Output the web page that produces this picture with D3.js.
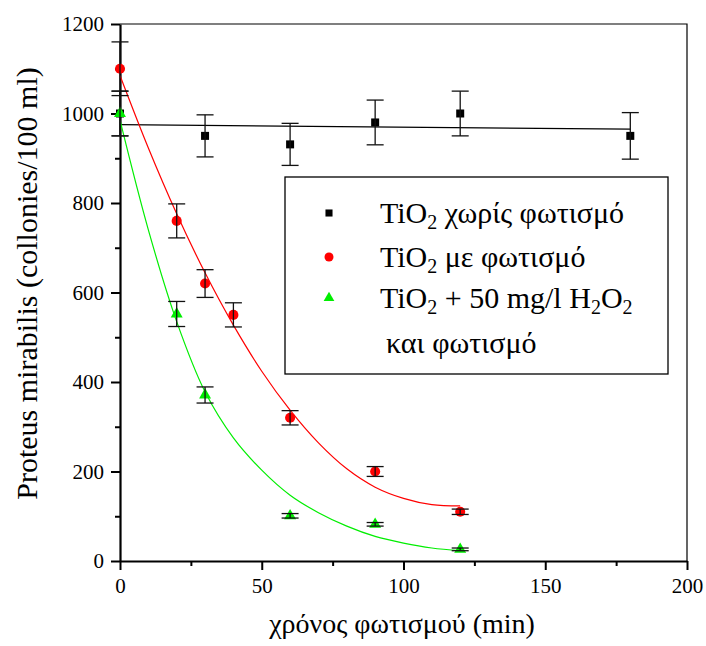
<!DOCTYPE html>
<html>
<head>
<meta charset="utf-8">
<script src="https://cdn.jsdelivr.net/npm/d3@7"></script>
<style>
  body { margin: 0; background: #fff; }
  svg { font-family: "Liberation Serif", "DejaVu Serif", serif; }
</style>
</head>
<body>
<svg id="chart" width="706" height="646"></svg>
<script>
// measured points (time in min, count, error)
const darkTimes = [0, 30, 60, 90, 120, 180];
const darkValues = [1000, 950, 931, 980, 1000, 950];
const darkErrors = [50, 47, 47, 50, 50, 52];

const lightTimes = [0, 20, 30, 40, 60, 90, 120];
const lightValues = [1100, 760, 620, 550, 320, 200, 110];
const lightErrors = [60, 38, 31, 27, 16, 11, 6];

const h2o2Times = [0, 20, 30, 60, 90, 120];
const h2o2Values = [1000, 552, 371, 101, 82, 26];
const h2o2Errors = [50, 28, 18, 5, 4, 3];

// fitted curves
const darkFitTimes = [0, 180];
const darkFitValues = [975, 965];
const fitTimes = [0, 10, 20, 30, 40, 50, 60, 70, 80, 90, 100, 110, 120];
const lightFitValues = [1085, 923, 776, 644, 527, 424, 337, 264, 206, 165, 140, 126, 123];
const h2o2FitValues = [985, 740, 535, 378, 275, 203, 147, 108, 78, 55, 40, 29, 23];

const xTicks = [0, 50, 100, 150, 200];
const xMinor = [25, 75, 125, 175];
const yTicks = [0, 200, 400, 600, 800, 1000, 1200];
const yMinor = [100, 300, 500, 700, 900, 1100];

const svg = d3.select("#chart");
const mLeft = 120, mRight = 687, mTop = 24, mBottom = 561;

const x = d3.scaleLinear().domain([0, 200]).range([mLeft, mRight]);
const y = d3.scaleLinear().domain([0, 1200]).range([mBottom, mTop]);

// frame on top/right
svg.append("path")
  .attr("d", `M${mLeft},${mTop}H${mRight}V${mBottom}`)
  .attr("fill", "none").attr("stroke", "#000").attr("stroke-width", 1.2);

// axes
svg.append("g")
  .attr("transform", `translate(0,${mBottom})`)
  .call(d3.axisBottom(x).tickValues(xTicks).tickSize(9).tickPadding(8).tickSizeOuter(0).tickFormat(d3.format("d")));
svg.append("g")
  .attr("transform", `translate(0,${mBottom})`)
  .call(d3.axisBottom(x).tickValues(xMinor).tickSize(5).tickFormat("").tickSizeOuter(0))
  .call(g => g.select(".domain").remove());
svg.append("g")
  .attr("transform", `translate(${mLeft},0)`)
  .call(d3.axisLeft(y).tickValues(yTicks).tickSize(9).tickPadding(7).tickSizeOuter(0).tickFormat(d3.format("d")));
svg.append("g")
  .attr("transform", `translate(${mLeft},0)`)
  .call(d3.axisLeft(y).tickValues(yMinor).tickSize(5).tickFormat("").tickSizeOuter(0))
  .call(g => g.select(".domain").remove());

svg.selectAll(".domain").attr("stroke-width", 2.2);
svg.selectAll(".tick line").attr("stroke-width", 2);
svg.selectAll(".tick text")
  .attr("font-family", "Liberation Serif")
  .attr("font-size", 21)
  .attr("fill", "#000");

// axis titles
svg.append("text")
  .attr("x", 402).attr("y", 633)
  .attr("text-anchor", "middle")
  .attr("font-size", 28)
  .text("χρόνος φωτισμού (min)");
svg.append("text")
  .attr("transform", `translate(37,${(mTop + mBottom) / 2 - 9}) rotate(-90)`)
  .attr("text-anchor", "middle")
  .attr("font-size", 30)
  .text("Proteus mirabilis (collonies/100 ml)");

// fit curves
const line = d3.line().x(d => x(d[0])).y(d => y(d[1])).curve(d3.curveCatmullRom);
svg.append("path")
  .attr("d", line(darkFitTimes.map((t, i) => [t, darkFitValues[i]])))
  .attr("fill", "none").attr("stroke", "#000").attr("stroke-width", 1.2);
svg.append("path")
  .attr("d", line(fitTimes.map((t, i) => [t, lightFitValues[i]])))
  .attr("fill", "none").attr("stroke", "#ff0000").attr("stroke-width", 1.2);
svg.append("path")
  .attr("d", line(fitTimes.map((t, i) => [t, h2o2FitValues[i]])))
  .attr("fill", "none").attr("stroke", "#00ee00").attr("stroke-width", 1.2);

const square = d3.symbol().type(d3.symbolSquare).size(64);
const circle = d3.symbol().type(d3.symbolCircle).size(80);
const triangle = d3.symbol().type(d3.symbolTriangle).size(62);

function drawSeries(times, values, errors, sym, color) {
  const pts = times.map((t, i) => ({ t, v: values[i], e: errors[i] }));
  const g = svg.append("g");
  g.selectAll("path.m").data(pts).join("path")
    .attr("class", "m")
    .attr("d", sym)
    .attr("transform", d => `translate(${x(d.t)},${y(d.v)})`)
    .attr("fill", color);
  const eb = g.selectAll("g.err").data(pts).join("g").attr("class", "err")
    .attr("stroke", "#111").attr("stroke-width", 1.3);
  eb.append("line")
    .attr("x1", d => x(d.t)).attr("x2", d => x(d.t))
    .attr("y1", d => y(d.v + d.e)).attr("y2", d => y(d.v - d.e));
  eb.append("line")
    .attr("x1", d => x(d.t) - 8.5).attr("x2", d => x(d.t) + 8.5)
    .attr("y1", d => y(d.v + d.e)).attr("y2", d => y(d.v + d.e));
  eb.append("line")
    .attr("x1", d => x(d.t) - 8.5).attr("x2", d => x(d.t) + 8.5)
    .attr("y1", d => y(d.v - d.e)).attr("y2", d => y(d.v - d.e));
}

drawSeries(darkTimes, darkValues, darkErrors, square, "#000");
drawSeries(lightTimes, lightValues, lightErrors, circle, "#ff0000");
drawSeries(h2o2Times, h2o2Values, h2o2Errors, triangle, "#00ee00");

// legend
const legend = svg.append("g");
legend.append("rect")
  .attr("x", 285).attr("y", 177).attr("width", 383).attr("height", 197)
  .attr("fill", "#fff").attr("stroke", "#000").attr("stroke-width", 1.3);

const legendRows = [
  { sym: d3.symbol().type(d3.symbolSquare).size(50), color: "#000", cy: 213, base: 223, parts: [["TiO", 0], ["2", 1], [" χωρίς φωτισμό", 0]] },
  { sym: d3.symbol().type(d3.symbolCircle).size(64), color: "#ff0000", cy: 257, base: 267, parts: [["TiO", 0], ["2", 1], [" με φωτισμό", 0]] },
  { sym: d3.symbol().type(d3.symbolTriangle).size(50), color: "#00ee00", cy: 298, base: 308, parts: [["TiO", 0], ["2", 1], [" + 50 mg/l H", 0], ["2", 1], ["O", 0], ["2", 1]] }
];
legendRows.forEach(r => {
  legend.append("path").attr("d", r.sym())
    .attr("transform", `translate(329,${r.cy})`).attr("fill", r.color);
  const t = legend.append("text").attr("x", 380).attr("y", r.base).attr("font-size", 30);
  r.parts.forEach(([s, sub]) => {
    t.append("tspan")
      .attr("font-size", sub ? 20 : 30)
      .attr("baseline-shift", sub ? "-0.3em" : null)
      .text(s);
  });
});
legend.append("text")
  .attr("x", 386).attr("y", 353).attr("font-size", 30)
  .text("και φωτισμό");
</script>
</body>
</html>
